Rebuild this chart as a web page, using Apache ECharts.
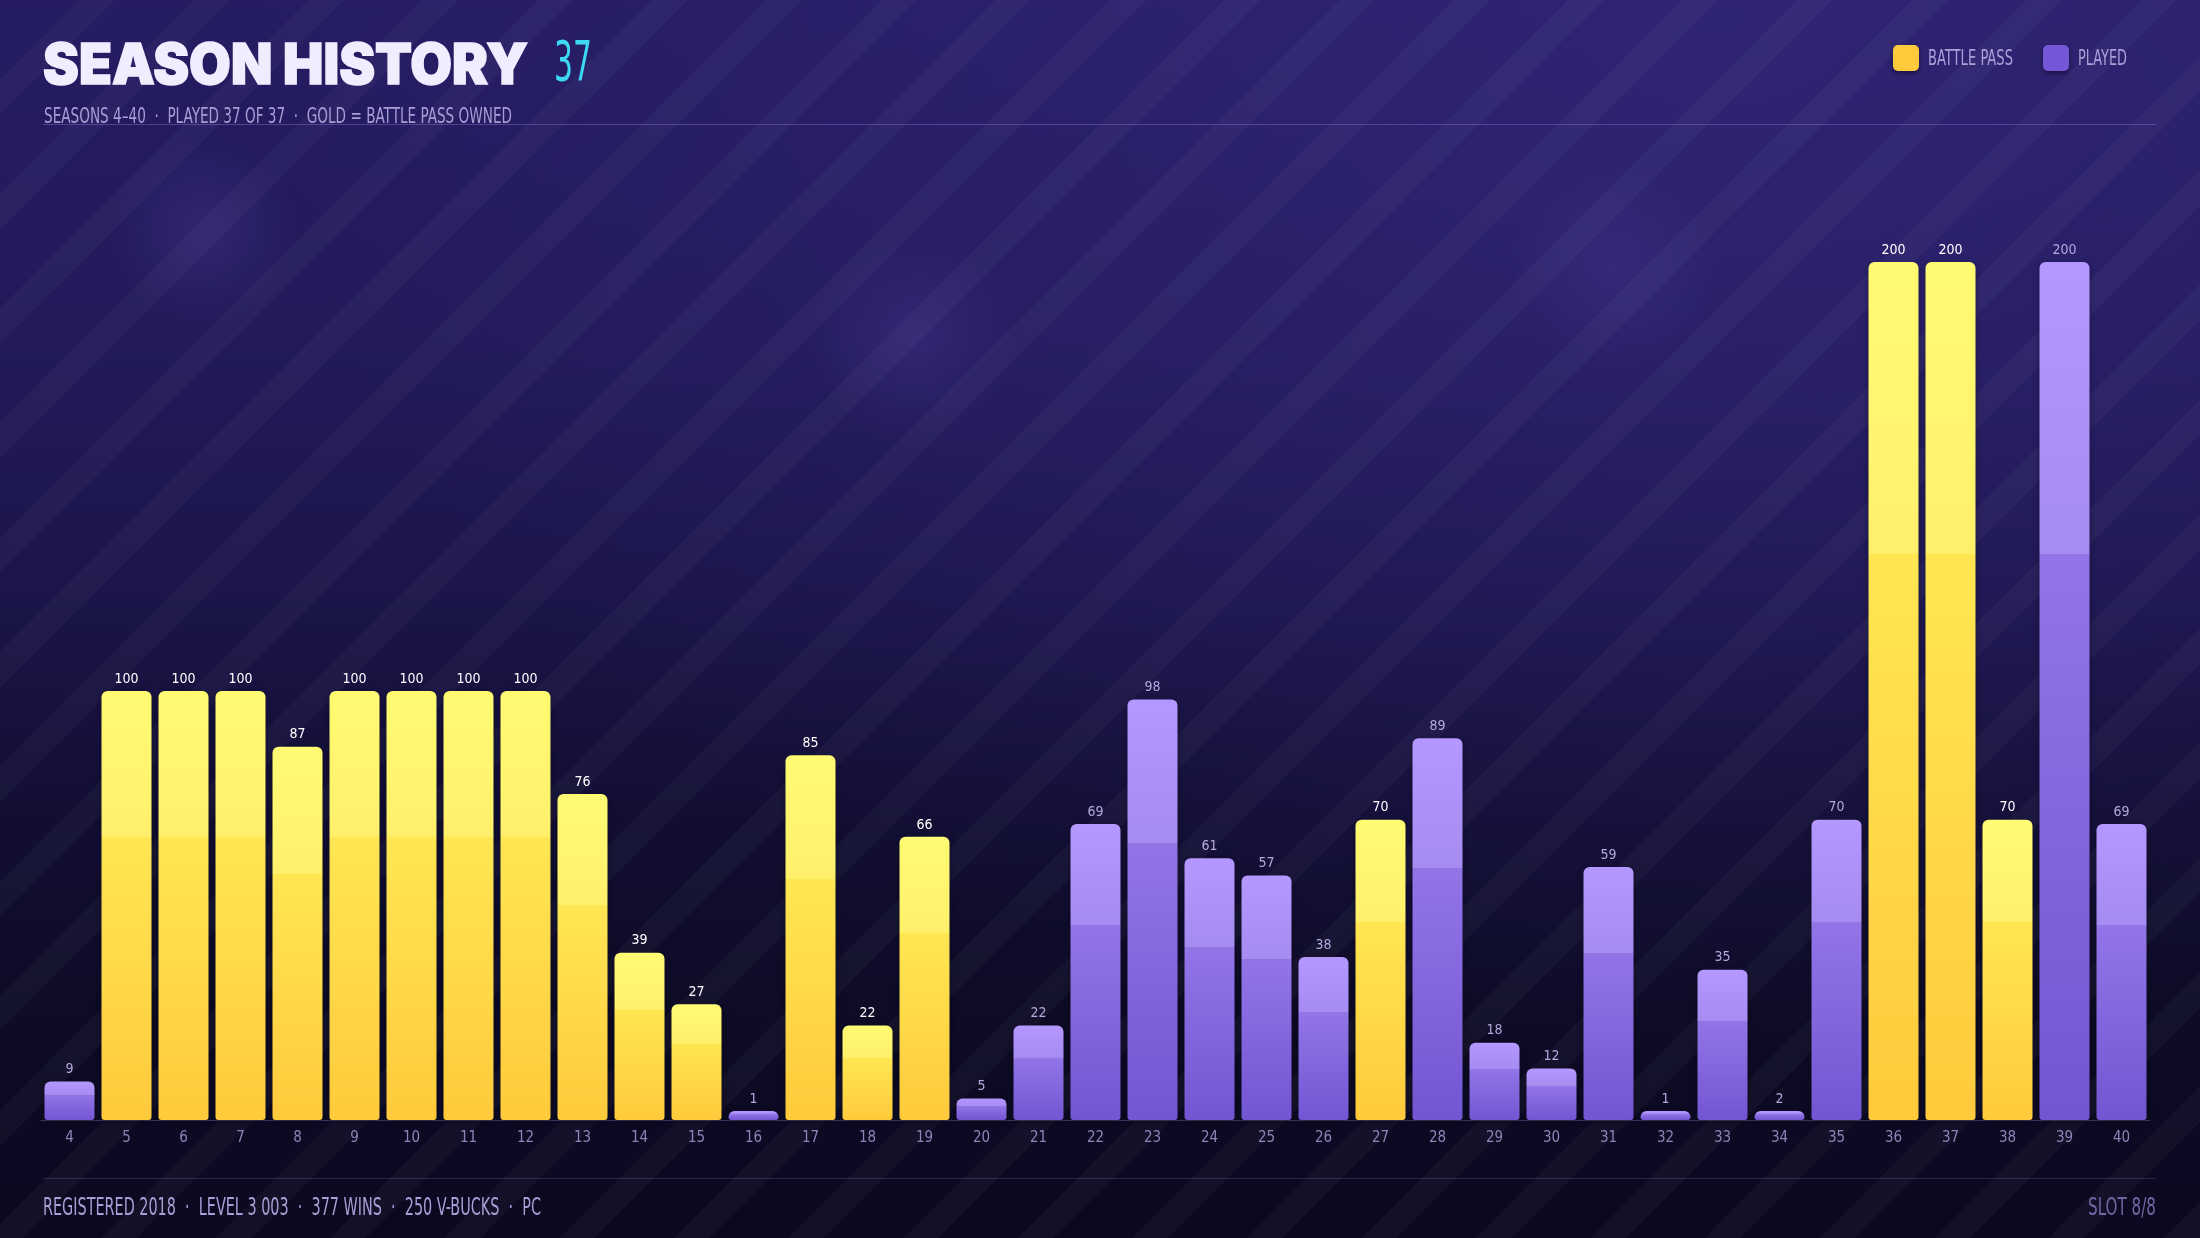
<!DOCTYPE html>
<html>
<head>
<meta charset="utf-8">
<script src="https://cdn.jsdelivr.net/npm/echarts@6/dist/echarts.min.js"></script>
<style>
html,body{margin:0;padding:0;width:2200px;height:1238px;overflow:hidden;}
body{
  background:
    radial-gradient(circle at 203px 231px, rgba(120,100,220,0.16) 0, rgba(120,100,220,0) 95px),
    radial-gradient(circle at 912px 337px, rgba(120,100,220,0.14) 0, rgba(120,100,220,0) 105px),
    radial-gradient(circle at 1613px 267px, rgba(120,100,220,0.12) 0, rgba(120,100,220,0) 105px),
    repeating-linear-gradient(135deg, rgba(255,255,255,0) 0px, rgba(255,255,255,0) 56px, rgba(255,255,255,0.032) 56px, rgba(255,255,255,0.032) 81px),
    radial-gradient(ellipse at 78% 0%, rgba(60,46,140,0.45) 0, rgba(60,46,140,0) 60%),
    linear-gradient(180deg, #251c62 0%, #221a59 28%, #1b1549 48%, #120e33 66%, #0d0b25 82%, #0b0920 100%);
}
#chart{width:2200px;height:1238px;}
</style>
</head>
<body>
<div id="chart"></div>
<script>
// ---- data ----
const seasons = ['4','5','6','7','8','9','10','11','12','13','14','15','16','17','18','19','20','21','22','23','24','25','26','27','28','29','30','31','32','33','34','35','36','37','38','39','40'];
const seasonLevels = [9,100,100,100,87,100,100,100,100,76,39,27,1,85,22,66,5,22,69,98,61,57,38,70,89,18,12,59,1,35,2,70,200,200,70,200,69];
const battlePassOwned = [0,1,1,1,1,1,1,1,1,1,1,1,0,1,1,1,0,0,0,0,0,0,0,1,0,0,0,0,0,0,0,0,1,1,1,0,0];
const legendNames = ['BATTLE PASS', 'PLAYED'];
const titleText = 'SEASON HISTORY';
const titleCount = '37';
const subtitleText = 'SEASONS 4–40  ·  PLAYED 37 OF 37  ·  GOLD = BATTLE PASS OWNED';
const footerText = 'REGISTERED 2018  ·  LEVEL 3 003  ·  377 WINS  ·  250 V-BUCKS  ·  PC';
const footerRight = 'SLOT 8/8';

// ---- styles ----
const NARROW = "'Liberation Sans Narrow','DejaVu Sans Condensed','Liberation Sans',sans-serif";
const HEAVY = "Inter,Lato,Roboto,'Noto Sans',sans-serif";
const mctx = document.createElement('canvas').getContext('2d');
function fit(text, font, width){ mctx.font = font; return width / mctx.measureText(text).width; }

const G = echarts.graphic.LinearGradient;
const goldFill = new G(0,0,0,1,[
  {offset:0, color:'#fffb73'},{offset:0.34, color:'#fff06b'},
  {offset:0.3401, color:'#ffe653'},{offset:1, color:'#ffca3c'}]);
const purpleFill = new G(0,0,0,1,[
  {offset:0, color:'#b497ff'},{offset:0.34, color:'#a68bf1'},
  {offset:0.3401, color:'#9375e8'},{offset:1, color:'#7255d2'}]);

const barData = seasonLevels.map((v,i)=>({
  value: v,
  itemStyle: {color: battlePassOwned[i] ? goldFill : purpleFill},
  label: {color: battlePassOwned[i] ? '#ffffff' : '#b3a9de'}
}));

function txt(text, font, x, y, width, fill, align, extra){
  const s = fit(text, font, width);
  return {
    type:'text', x:x, y:y, scaleX:s, scaleY:1, silent:true,
    style: Object.assign({text:text, x:0, y:0, font:font, fill:fill, align:align||'left', verticalAlign:'middle'}, extra||{})
  };
}

const titleFont = 'normal 900 56px ' + HEAVY;
const countFont = 'normal 400 56px ' + NARROW;
const subFont = 'normal 400 21px ' + NARROW;
const legFont = 'normal 400 21px ' + NARROW;
const footFont = 'normal 400 24px ' + NARROW;

const graphics = [
  txt(titleText, titleFont, 43, 67, 485, '#f1edff', 'left', {stroke:'#f1edff', lineWidth:1.5, shadowColor:'rgba(0,0,0,0.35)', shadowOffsetY:2, shadowBlur:2}),
  txt(titleCount, countFont, 554, 65, 38, '#3dd8f2', 'left'),
  txt(subtitleText, subFont, 44, 118, 468, '#a79ed6', 'left'),
  {type:'line', silent:true, shape:{x1:43,y1:124.5,x2:2156,y2:124.5}, style:{stroke:'rgba(130,112,210,0.45)', lineWidth:1}},
  {type:'rect', silent:true, shape:{x:1893,y:45,width:26,height:26,r:5}, style:{fill:'#ffc93c', shadowColor:'rgba(0,0,0,0.45)', shadowBlur:4, shadowOffsetY:2}},
  txt(legendNames[0], legFont, 1928, 59.5, 85, '#aaa0d8', 'left'),
  {type:'rect', silent:true, shape:{x:2043,y:45,width:26,height:26,r:5}, style:{fill:'#7456d6', shadowColor:'rgba(0,0,0,0.45)', shadowBlur:4, shadowOffsetY:2}},
  txt(legendNames[1], legFont, 2078, 59.5, 49, '#aaa0d8', 'left'),
  {type:'line', silent:true, shape:{x1:43,y1:1178.5,x2:2156,y2:1178.5}, style:{stroke:'rgba(150,135,220,0.22)', lineWidth:1}},
  txt(footerText, footFont, 43, 1209, 498, '#a79fd6', 'left'),
  txt(footerRight, footFont, 2156, 1209, 68, '#6f67a3', 'right')
];

const chart = echarts.init(document.getElementById('chart'), null, {renderer:'canvas'});
chart.setOption({
  backgroundColor: 'transparent',
  animation: false,
  grid: {left: 41, right: 50, top: 262, bottom: 118, containLabel: false},
  xAxis: {
    type: 'category', data: seasons,
    axisLine: {show: true, lineStyle: {color: 'rgba(120,110,180,0.45)', width: 1}},
    axisTick: {show: false},
    axisLabel: {interval: 0, color: '#8d84b9', fontFamily: NARROW, fontSize: 15, margin: 11}
  },
  yAxis: {type: 'value', min: 0, max: 200, show: false, splitLine: {show: false}},
  series: [{
    type: 'bar',
    data: barData,
    barWidth: 50,
    barMinHeight: 9,
    itemStyle: {borderRadius: [6,6,3,3], shadowColor: 'rgba(0,0,0,0.35)', shadowBlur: 6, shadowOffsetY: 2},
    label: {show: true, position: 'top', distance: 5, fontFamily: NARROW, fontSize: 14}
  }],
  graphic: graphics
});
</script>
</body>
</html>
